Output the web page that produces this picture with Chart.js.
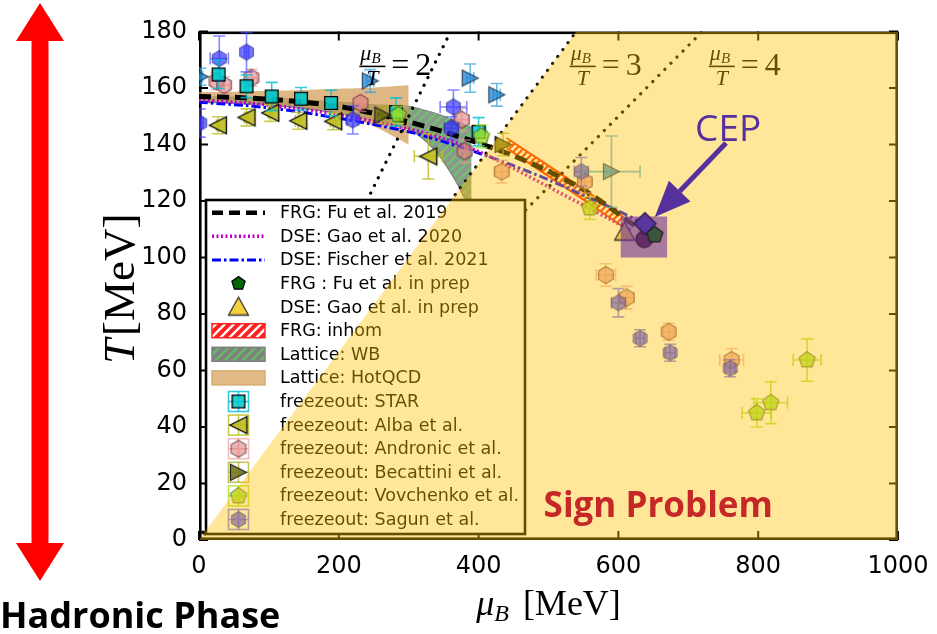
<!DOCTYPE html>
<html>
<head>
<meta charset="utf-8">
<script src="https://cdn.jsdelivr.net/npm/chart.js@4.4.1/dist/chart.umd.min.js"></script>
<style>
html, body { margin: 0; padding: 0; background: #fff; }
#wrap { width: 937px; height: 634px; }
</style>
</head>
<body>
<div id="wrap"><canvas id="c" width="937" height="634"></canvas></div>
<script>
// axis ticks
const muTicks = [0, 200, 400, 600, 800, 1000];
const tTicks = [0, 20, 40, 60, 80, 100, 120, 140, 160, 180];

// crossover lines
const fuMu = [0, 50, 100, 150, 200, 250, 300, 350, 400, 450, 500, 550, 600, 630];
const fuT = [157, 156.7, 156, 155, 153.5, 151, 148, 144.5, 140.5, 136, 130.5, 124, 115.5, 110];
const gaoMu = [0, 100, 200, 300, 350, 400, 450, 500, 550, 600, 620];
const gaoT = [155.8, 154, 150.5, 145.5, 142, 137.5, 131.5, 125, 118.5, 112, 109.5];
const fischerMu = [0, 100, 200, 300, 350, 400, 450, 500, 550, 600, 632];
const fischerT = [155, 153, 149.3, 144.5, 141, 137, 132.5, 127.5, 122, 116.5, 112.5];

// bands
const hotMu = [0, 50, 100, 150, 200, 250, 300];
const hotUp = [158.6, 158.7, 159, 159.3, 159.7, 160.2, 161];
const hotLo = [155.5, 155.2, 154.5, 153, 151, 146.5, 140];
const wbMu = [0, 100, 200, 250, 300, 325, 345, 360, 372, 380, 390];
const wbUp = [157, 156.5, 155, 154, 153.5, 152, 150.5, 149, 148, 147, 146];
const wbLo = [155, 154, 151, 148.5, 145.5, 141, 135.5, 130, 125, 121, 121];
const inhomMu = [440, 500, 560, 607];
const inhomUp = [142.3, 132.5, 122.5, 114.3];
const inhomLo = [138.7, 128.8, 118.8, 110.8];

// mu_B / T = 2, 3, 4
const ratios = [2, 3, 4];
const ratioLabelMu = [248, 549, 748];
const ratioLabelT = 168;

// freezeout points
const starMu = [28, 68, 104, 146, 189, 282, 400];
const starT = [164.8, 160.6, 157, 156.2, 154.7, 151.5, 144.5];
const starMuErr = [3, 3, 4, 5, 5, 6, 10];
const starTErr = [5, 4, 5, 4, 4.5, 5, 5];

const albaMu = [27, 68, 102, 142, 192, 328];
const albaT = [146.8, 149.6, 151.2, 148.4, 148.2, 135.8];
const albaMuErr = [2, 3, 3, 4, 4, 20];
const albaTErr = [3, 3, 3, 3, 3, 8];

const andrMu = [25, 36, 75, 231, 376, 380, 433, 552, 582, 612, 672, 762];
const andrT = [162.4, 161, 163.6, 154.7, 148.8, 137.6, 130.4, 126.8, 93.8, 85.8, 73.7, 63.7];
const andrMuErr = [8, 8, 8, 8, 10, 10, 10, 10, 14, 10, 8, 17];
const andrTErr = [3, 3, 3, 3, 4, 4, 4, 4, 4, 4, 3, 4];

const sagMu = [1, 29, 68, 220, 364, 361, 547, 600, 631, 674, 760];
const sagT = [147.6, 170.4, 172.7, 148.7, 153.3, 145.8, 130.4, 84, 71.4, 66.3, 60.8];
const sagMuErr = [5, 13, 3, 8, 19, 10, 10, 10, 6, 7, 7];
const sagTErr = [5, 8, 7, 5, 6, 4, 5, 5, 3, 3, 3];

const becAMu = [2, 245, 388, 426, 590];
const becAT = [164, 162.5, 163.5, 157.6, 130.4];
const becAMuErr = [3, 5, 5, 5, 41];
const becATErr = [3, 4, 5, 4, 12.6];
const becBMu = [263, 435];
const becBT = [150.4, 140];
const becBMuErr = [4, 8];
const becBTErr = [3, 4];

const vovMu = [285, 404, 559, 798, 818, 870];
const vovT = [150.5, 142.9, 117.5, 45, 48.6, 63.7];
const vovMuErr = [5, 8, 8, 21, 24, 20];
const vovTErr = [3, 4, 4, 5, 7.4, 7.5];

// sign problem region (right of mu_B/T = 3)
const signMu = [0, 540, 1000];
const signT = [0, 180, 180];

// CEP
const cepBoxMu = [603, 670];
const cepBoxT = [100, 114.5];
const fuPrepMu = [652], fuPrepT = [108];
const gaoPrepMu = [609], gaoPrepT = [109];
const cepDiaMu = [638], cepDiaT = [112];
const cepDotMu = [637], cepDotT = [106.5];
const cepArrowMu = [754, 652];
const cepArrowT = [140.5, 114.3];
const cepLabel = {mu: 757, t: 145};
const signLabel = {mu: 657, t: 11.7};

const canvas = document.getElementById('c');
const ctx = canvas.getContext('2d');
const pts = (xs, ys) => xs.map((x, i) => ({x: x, y: ys[i]}));

function mk(shape, size, fill, stroke, lw) {
  const s = Math.ceil(size + 2 * lw + 2);
  const cv = document.createElement('canvas');
  cv.width = s; cv.height = s;
  const g = cv.getContext('2d');
  const c = s / 2, r = size / 2;
  g.beginPath();
  if (shape === 'hex' || shape === 'pent') {
    const n = shape === 'hex' ? 6 : 5;
    for (let k = 0; k < n; k++) {
      const a = -Math.PI / 2 + k * 2 * Math.PI / n;
      g.lineTo(c + r * Math.cos(a), c + r * Math.sin(a));
    }
  } else if (shape === 'sq') {
    g.rect(c - r * 0.85, c - r * 0.85, r * 1.7, r * 1.7);
  } else if (shape === 'tl') {
    g.moveTo(c - r, c); g.lineTo(c + r, c - r); g.lineTo(c + r, c + r);
  } else if (shape === 'tr') {
    g.moveTo(c + r, c); g.lineTo(c - r, c - r); g.lineTo(c - r, c + r);
  } else if (shape === 'tu') {
    g.moveTo(c, c - r); g.lineTo(c + r, c + r * 0.8); g.lineTo(c - r, c + r * 0.8);
  } else if (shape === 'dia') {
    g.moveTo(c, c - r); g.lineTo(c + r, c); g.lineTo(c, c + r); g.lineTo(c - r, c);
  } else {
    g.arc(c, c, r, 0, 2 * Math.PI);
  }
  g.closePath();
  g.fillStyle = fill; g.fill();
  if (lw > 0) { g.lineWidth = lw; g.strokeStyle = stroke; g.stroke(); }
  return cv;
}

function hatch(bg, fg, lw, gap) {
  const cv = document.createElement('canvas');
  cv.width = gap; cv.height = gap;
  const g = cv.getContext('2d');
  if (bg) { g.fillStyle = bg; g.fillRect(0, 0, gap, gap); }
  g.strokeStyle = fg; g.lineWidth = lw;
  g.beginPath();
  g.moveTo(-1, gap + 1); g.lineTo(gap + 1, -1);
  g.moveTo(-gap / 2, gap / 2); g.lineTo(gap / 2, -gap / 2);
  g.moveTo(gap / 2, gap * 1.5); g.lineTo(gap * 1.5, gap / 2);
  g.stroke();
  return ctx.createPattern(cv, 'repeat');
}

// marker styles
const mStar = mk('sq', 15, 'rgba(0,200,200,0.85)', '#000', 1.3);
const mAlba = mk('tl', 17, 'rgba(190,190,30,0.9)', '#000', 1.3);
const mAndr = mk('hex', 17, 'rgba(225,130,130,0.6)', 'rgba(90,50,50,0.7)', 1.2);
const mSag = mk('hex', 16, 'rgba(50,50,255,0.68)', 'rgba(40,40,120,0.6)', 1.2);
const mBecA = mk('tr', 16, 'rgba(30,130,210,0.75)', 'rgba(20,40,60,0.8)', 1.2);
const mBecB = mk('tr', 16, 'rgba(110,110,20,0.85)', '#222', 1.2);
const mVov = mk('pent', 17, 'rgba(150,220,40,0.75)', 'rgba(60,70,20,0.6)', 1.2);
const mFuPrep = mk('pent', 17, 'rgb(60,85,60)', '#222', 1.3);
const mGaoPrep = mk('tu', 20, 'rgba(235,195,60,0.9)', '#333', 1.3);
const mDia = mk('dia', 22, 'rgb(90,55,160)', '#2a1a40', 1.3);
const mDot = mk('circle', 17, 'rgb(100,45,100)', '#3a1a3a', 1);

const errColors = {
  star: 'rgba(0,190,210,0.8)', alba: 'rgba(190,190,30,0.8)', andr: 'rgba(240,150,150,0.65)',
  sag: 'rgba(70,70,255,0.65)', becA: 'rgba(40,160,220,0.7)', becB: 'rgba(170,170,30,0.7)',
  vov: 'rgba(170,225,40,0.8)'
};

const lineBase = {type: 'line', pointRadius: 0, fill: false, tension: 0.3, borderCapStyle: 'butt'};
const drawSeq = [
  Object.assign({}, lineBase, {data: pts(wbMu, wbUp), borderColor: 'rgba(120,120,120,0.9)', borderWidth: 1.2, tension: 0.2}),
  Object.assign({}, lineBase, {data: pts(wbMu, wbLo), borderColor: 'rgba(120,120,120,0.9)', borderWidth: 1.2, tension: 0.2,
    fill: '-1', backgroundColor: hatch('rgba(125,138,125,0.88)', 'rgba(110,195,110,1)', 2.2, 9)}),
  Object.assign({}, lineBase, {data: pts(hotMu, hotUp), borderWidth: 0, borderColor: 'rgba(0,0,0,0)'}),
  Object.assign({}, lineBase, {data: pts(hotMu, hotLo), borderWidth: 0, borderColor: 'rgba(0,0,0,0)',
    fill: '-1', backgroundColor: 'rgba(210,155,85,0.72)'}),
  Object.assign({}, lineBase, {data: pts(inhomMu, inhomUp), borderColor: '#ff2a00', borderWidth: 2, tension: 0}),
  Object.assign({}, lineBase, {data: pts(inhomMu, inhomLo), borderColor: '#ff2a00', borderWidth: 2, tension: 0,
    fill: '-1', backgroundColor: hatch(null, '#ff2a00', 2.2, 7)}),
  Object.assign({}, lineBase, {data: pts(fischerMu, fischerT), borderColor: '#0000ff', borderWidth: 3, borderDash: [9, 3, 2.5, 3]}),
  Object.assign({}, lineBase, {data: pts(gaoMu, gaoT), borderColor: '#c000c0', borderWidth: 3.5, borderDash: [2, 2.5]}),
  Object.assign({}, lineBase, {data: pts(fuMu, fuT), borderColor: '#000', borderWidth: 5, borderDash: [12, 6]})
];
ratios.forEach(r => {
  drawSeq.push(Object.assign({}, lineBase, {data: pts([0, 180 * r], [0, 180]), tension: 0,
    borderColor: '#000', borderWidth: 3.2, borderDash: [0.1, 8.5], borderCapStyle: 'round'}));
});
function fz(xs, ys, ex, ey, img, err) {
  return {type: 'scatter', data: pts(xs, ys), errX: ex, errY: ey, errColor: err,
    pointStyle: img, pointRadius: 8, borderWidth: 0};
}
drawSeq.push(fz(andrMu, andrT, andrMuErr, andrTErr, mAndr, errColors.andr));
drawSeq.push(fz(sagMu, sagT, sagMuErr, sagTErr, mSag, errColors.sag));
drawSeq.push(fz(albaMu, albaT, albaMuErr, albaTErr, mAlba, errColors.alba));
drawSeq.push(fz(starMu, starT, starMuErr, starTErr, mStar, errColors.star));
drawSeq.push(fz(becAMu, becAT, becAMuErr, becATErr, mBecA, errColors.becA));
drawSeq.push(fz(becBMu, becBT, becBMuErr, becBTErr, mBecB, errColors.becB));
const vovSet = fz(vovMu, vovT, vovMuErr, vovTErr, mVov, errColors.vov);
vovSet.hook = true;
drawSeq.push(vovSet);
// sign problem overlay
drawSeq.push(Object.assign({}, lineBase, {data: pts(signMu, signT), tension: 0, borderWidth: 0,
  borderColor: 'rgba(0,0,0,0)', fill: 'origin', backgroundColor: 'rgba(255,192,0,0.4)'}));
drawSeq.push({type: 'scatter', data: pts(gaoPrepMu, gaoPrepT), pointStyle: mGaoPrep, pointRadius: 10, borderWidth: 0});
drawSeq.push(Object.assign({}, lineBase, {data: pts(cepBoxMu, [cepBoxT[1], cepBoxT[1]]), tension: 0, borderWidth: 0,
  borderColor: 'rgba(0,0,0,0)', fill: {value: cepBoxT[0]}, backgroundColor: 'rgba(112,48,160,0.6)'}));
drawSeq.push({type: 'scatter', data: pts(cepDotMu, cepDotT), pointStyle: mDot, pointRadius: 9, borderWidth: 0});
drawSeq.push({type: 'scatter', data: pts(fuPrepMu, fuPrepT), pointStyle: mFuPrep, pointRadius: 9, borderWidth: 0});
drawSeq.push({type: 'scatter', data: pts(cepDiaMu, cepDiaT), pointStyle: mDia, pointRadius: 11, borderWidth: 0});
drawSeq.forEach((d, i) => { d.order = drawSeq.length - i; });

const legendItems = [
  {label: 'FRG: Fu et al. 2019', kind: 'line', color: '#000', width: 4.5, dash: [11, 6]},
  {label: 'DSE: Gao et al. 2020', kind: 'line', color: '#c000c0', width: 3.5, dash: [2, 2.5]},
  {label: 'DSE: Fischer et al. 2021', kind: 'line', color: '#0000ff', width: 3, dash: [9, 3, 2.5, 3]},
  {label: 'FRG : Fu et al. in prep', kind: 'mark', img: mk('pent', 14, '#006400', '#000', 1.2)},
  {label: 'DSE: Gao et al. in prep', kind: 'mark', img: mk('tu', 20, '#f5cf3c', '#333', 1.3)},
  {label: 'FRG: inhom', kind: 'patch', fill: hatch('#ff2020', '#fff', 2.4, 9), edge: '#ff2020'},
  {label: 'Lattice: WB', kind: 'patch', fill: hatch('#808080', '#66bb66', 2.4, 9), edge: '#808080'},
  {label: 'Lattice: HotQCD', kind: 'patch', fill: '#e2b985', edge: '#d8ac70'},
  {label: 'freezeout: STAR', kind: 'err', img: mStar, err: errColors.star},
  {label: 'freezeout: Alba et al.', kind: 'err', img: mAlba, err: errColors.alba},
  {label: 'freezeout: Andronic et al.', kind: 'err', img: mAndr, err: errColors.andr},
  {label: 'freezeout: Becattini et al.', kind: 'err', img: mBecB, err: errColors.becB},
  {label: 'freezeout: Vovchenko et al.', kind: 'err', img: mVov, err: errColors.vov},
  {label: 'freezeout: Sagun et al.', kind: 'err', img: mSag, err: errColors.sag}
];

function drawErr(chart, ds) {
  const xs = chart.scales.x, ys = chart.scales.y, g = chart.ctx, ca = chart.chartArea;
  g.save();
  g.beginPath(); g.rect(ca.left, ca.top, ca.right - ca.left, ca.bottom - ca.top); g.clip();
  g.strokeStyle = ds.errColor; g.lineWidth = 1.6;
  ds.data.forEach((p, i) => {
    const px = xs.getPixelForValue(p.x), py = ys.getPixelForValue(p.y);
    const x0 = xs.getPixelForValue(p.x - ds.errX[i]), x1 = xs.getPixelForValue(p.x + ds.errX[i]);
    const y0 = ys.getPixelForValue(p.y - ds.errY[i]), y1 = ys.getPixelForValue(p.y + ds.errY[i]);
    const c = 6;
    g.beginPath();
    g.moveTo(x0, py); g.lineTo(x1, py); g.moveTo(px, y0); g.lineTo(px, y1);
    g.moveTo(x0, py - c); g.lineTo(x0, py + c); g.moveTo(x1, py - c); g.lineTo(x1, py + c);
    g.moveTo(px - c, y0); g.lineTo(px + c, y0); g.moveTo(px - c, y1); g.lineTo(px + c, y1);
    g.stroke();
  });
  g.restore();
}

function drawFrame(chart) {
  const g = chart.ctx, ca = chart.chartArea, xs = chart.scales.x, ys = chart.scales.y;
  g.save();
  g.strokeStyle = '#000'; g.lineWidth = 2;
  g.beginPath();
  muTicks.forEach(v => {
    const x = xs.getPixelForValue(v);
    g.moveTo(x, ca.bottom); g.lineTo(x, ca.bottom - 9);
    g.moveTo(x, ca.top); g.lineTo(x, ca.top + 9);
  });
  tTicks.forEach(v => {
    const y = ys.getPixelForValue(v);
    g.moveTo(ca.left, y); g.lineTo(ca.left + 9, y);
    g.moveTo(ca.right, y); g.lineTo(ca.right - 9, y);
  });
  g.stroke();
  g.lineWidth = 2.6;
  g.strokeRect(ca.left + 1.3, ca.top + 1.3, ca.right - ca.left - 2.6, ca.bottom - ca.top - 2.6);
  g.restore();
}

function drawRatioLabels(chart) {
  const g = chart.ctx, xs = chart.scales.x, ys = chart.scales.y;
  g.save();
  g.fillStyle = '#000'; g.strokeStyle = '#000';
  ratios.forEach((r, i) => {
    const cx = xs.getPixelForValue(ratioLabelMu[i]), cy = ys.getPixelForValue(ratioLabelT);
    g.textBaseline = 'alphabetic'; g.textAlign = 'left';
    g.font = 'italic 22px "Liberation Serif"';
    const wm = g.measureText('\u03bc').width;
    g.fillText('\u03bc', cx - 12, cy - 5);
    g.font = 'italic 15px "Liberation Serif"';
    g.fillText('B', cx - 12 + wm, cy - 2);
    g.lineWidth = 1.6;
    g.beginPath(); g.moveTo(cx - 13, cy + 1); g.lineTo(cx + 13, cy + 1); g.stroke();
    g.font = 'italic 22px "Liberation Serif"';
    g.textAlign = 'center';
    g.fillText('T', cx, cy + 20);
    g.textAlign = 'left';
    g.font = '32px "Liberation Serif"';
    g.fillText('=', cx + 19, cy + 10);
    g.fillText(String(r), cx + 43, cy + 10);
  });
  g.restore();
}

function drawLegend(chart) {
  const g = chart.ctx, ca = chart.chartArea;
  const L = ca.left + 7, T = ca.top + 168.5, W = 319, H = 334, step = 23.6;
  g.save();
  g.fillStyle = '#fff'; g.fillRect(L, T, W, H);
  g.strokeStyle = '#000'; g.lineWidth = 2.6; g.strokeRect(L, T, W, H);
  legendItems.forEach((it, i) => {
    const y = T + 12.7 + i * step;
    const hx0 = L + 6, hx1 = L + 59, hc = (hx0 + hx1) / 2;
    g.save();
    if (it.kind === 'line') {
      g.strokeStyle = it.color; g.lineWidth = it.width; g.setLineDash(it.dash);
      g.beginPath(); g.moveTo(hx0, y); g.lineTo(hx1, y); g.stroke();
    } else if (it.kind === 'mark') {
      g.drawImage(it.img, hc - it.img.width / 2, y - it.img.height / 2);
    } else if (it.kind === 'patch') {
      g.fillStyle = it.fill; g.fillRect(hx0, y - 7, hx1 - hx0, 14);
      g.strokeStyle = it.edge; g.lineWidth = 1.5; g.strokeRect(hx0, y - 7, hx1 - hx0, 14);
    } else {
      g.strokeStyle = it.err; g.lineWidth = 1.6;
      g.strokeRect(hc - 10, y - 10, 20, 20);
      g.beginPath(); g.moveTo(hc - 10, y); g.lineTo(hc + 10, y); g.moveTo(hc, y - 10); g.lineTo(hc, y + 10); g.stroke();
      g.drawImage(it.img, hc - it.img.width / 2, y - it.img.height / 2);
    }
    g.restore();
    g.fillStyle = '#000'; g.font = '17.5px "DejaVu Sans"';
    g.textAlign = 'left'; g.textBaseline = 'middle';
    g.fillText(it.label, L + 74, y + 1);
  });
  g.restore();
}

function drawNotes(chart) {
  const g = chart.ctx, ca = chart.chartArea, xs = chart.scales.x, ys = chart.scales.y;
  g.save();
  // CEP label and arrow
  const purple = 'rgb(86,48,156)';
  g.fillStyle = purple; g.font = '37px "Open Sans"';
  g.textAlign = 'center'; g.textBaseline = 'middle';
  g.fillText('CEP', xs.getPixelForValue(cepLabel.mu), ys.getPixelForValue(cepLabel.t));
  const ax0 = xs.getPixelForValue(cepArrowMu[0]), ay0 = ys.getPixelForValue(cepArrowT[0]);
  const ax1 = xs.getPixelForValue(cepArrowMu[1]), ay1 = ys.getPixelForValue(cepArrowT[1]);
  const ang = Math.atan2(ay1 - ay0, ax1 - ax0), hl = 36, hw = 15;
  const bx = ax1 - hl * Math.cos(ang), by = ay1 - hl * Math.sin(ang);
  g.strokeStyle = purple; g.lineWidth = 5;
  g.beginPath(); g.moveTo(ax0, ay0); g.lineTo(bx, by); g.stroke();
  g.beginPath();
  g.moveTo(ax1, ay1);
  g.lineTo(bx + hw * Math.sin(ang), by - hw * Math.cos(ang));
  g.lineTo(bx - hw * Math.sin(ang), by + hw * Math.cos(ang));
  g.closePath(); g.fill();

  // Sign Problem
  g.fillStyle = '#c62828'; g.font = 'bold 35px "Open Sans"';
  g.fillText('Sign Problem', xs.getPixelForValue(signLabel.mu), ys.getPixelForValue(signLabel.t));

  // axis titles
  g.fillStyle = '#000'; g.textBaseline = 'middle'; g.textAlign = 'left';
  const fy = '45px "Liberation Serif"';
  g.font = 'italic ' + fy; const wT = g.measureText('T').width;
  g.font = fy; const wM = g.measureText('[MeV]').width;
  g.save();
  g.translate(122, (ca.top + ca.bottom) / 2 + 3); g.rotate(-Math.PI / 2);
  g.font = 'italic ' + fy; g.fillText('T', -(wT + wM + 3) / 2, 0);
  g.font = fy; g.fillText('[MeV]', -(wT + wM + 3) / 2 + wT + 3, 0);
  g.restore();
  const fx = '36px "Liberation Serif"';
  g.font = 'italic ' + fx; const wMu = g.measureText('\u03bc').width;
  g.font = 'italic 24px "Liberation Serif"'; const wB = g.measureText('B').width;
  g.font = fx; const wX = g.measureText('[MeV]').width;
  const tot = wMu + wB + 14 + wX, x0 = (ca.left + ca.right) / 2 - tot / 2, yT = 606;
  g.font = 'italic ' + fx; g.fillText('\u03bc', x0, yT);
  g.font = 'italic 24px "Liberation Serif"'; g.fillText('B', x0 + wMu, yT + 9);
  g.font = fx; g.fillText('[MeV]', x0 + wMu + wB + 14, yT);

  // hadronic phase arrow
  g.fillStyle = '#ff0000';
  const cx = 40, top = 3, bot = 581, headH = 38, headW = 24, shaft = 8.5;
  g.beginPath();
  g.moveTo(cx, top); g.lineTo(cx + headW, top + headH); g.lineTo(cx + shaft, top + headH);
  g.lineTo(cx + shaft, bot - headH); g.lineTo(cx + headW, bot - headH); g.lineTo(cx, bot);
  g.lineTo(cx - headW, bot - headH); g.lineTo(cx - shaft, bot - headH);
  g.lineTo(cx - shaft, top + headH); g.lineTo(cx - headW, top + headH);
  g.closePath(); g.fill();
  g.fillStyle = '#000'; g.font = 'bold 36px "Open Sans"';
  g.textAlign = 'left'; g.textBaseline = 'alphabetic';
  g.fillText('Hadronic Phase', 0, 628);
  g.restore();
}

const deco = {
  id: 'deco',
  beforeDatasetsDraw(chart) { drawFrame(chart); },
  beforeDatasetDraw(chart, args) {
    const ds = chart.data.datasets[args.index];
    if (ds.errX) drawErr(chart, ds);
  },
  afterDatasetDraw(chart, args) {
    if (chart.data.datasets[args.index].hook) { drawRatioLabels(chart); drawLegend(chart); }
  },
  afterDraw(chart) { drawNotes(chart); }
};

new Chart(ctx, {
  type: 'scatter',
  data: {datasets: drawSeq},
  options: {
    responsive: false,
    animation: false,
    devicePixelRatio: 1,
    events: [],
    layout: {padding: {top: 31.5, right: 39, left: 0, bottom: 0}},
    plugins: {legend: {display: false}, tooltip: {enabled: false}},
    scales: {
      x: {
        type: 'linear', min: 0, max: 1000,
        grid: {display: false, drawTicks: false},
        border: {display: false},
        ticks: {stepSize: 200, autoSkip: false, maxRotation: 0, padding: 12, color: '#000',
          font: {family: 'DejaVu Sans', size: 24}, callback: v => String(v)},
        afterFit: s => { s.height = 94; s.paddingLeft = 0; s.paddingRight = 0; }
      },
      y: {
        type: 'linear', min: 0, max: 180,
        grid: {display: false, drawTicks: false},
        border: {display: false},
        ticks: {stepSize: 20, autoSkip: false, padding: 12, color: '#000',
          font: {family: 'DejaVu Sans', size: 24}, callback: v => String(v)},
        afterFit: s => { s.width = 199; s.paddingTop = 0; s.paddingBottom = 0; }
      }
    }
  },
  plugins: [deco]
});
</script>
</body>
</html>
